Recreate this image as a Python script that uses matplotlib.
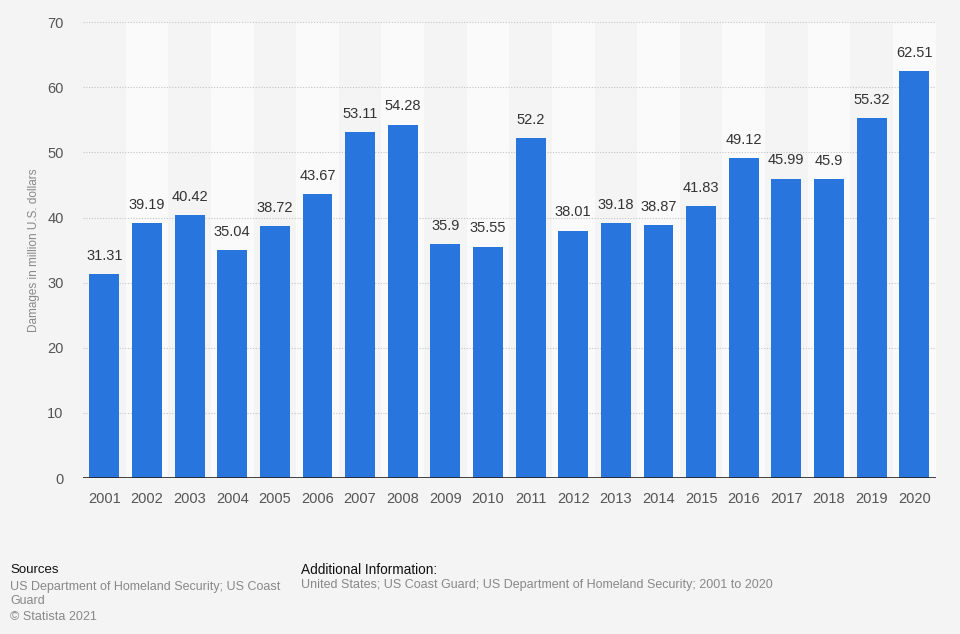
import matplotlib.pyplot as plt
import numpy as np

plt.rcParams['font.family'] = ['Liberation Sans', 'DejaVu Sans']

years = ["2001", "2002", "2003", "2004", "2005", "2006", "2007", "2008", "2009", "2010",
         "2011", "2012", "2013", "2014", "2015", "2016", "2017", "2018", "2019", "2020"]
damages = [31.31, 39.19, 40.42, 35.04, 38.72, 43.67, 53.11, 54.28, 35.9, 35.55,
           52.2, 38.01, 39.18, 38.87, 41.83, 49.12, 45.99, 45.9, 55.32, 62.51]
yticks = [0, 10, 20, 30, 40, 50, 60, 70]

bg = "#f4f4f4"
fig = plt.figure(figsize=(9.6, 6.34), dpi=100, facecolor=bg)
ax = fig.add_axes([0.0865, 0.246, 0.888, 0.719])
ax.set_facecolor(bg)

x = np.arange(len(years))
# alternating column bands
for i in x:
    if i % 2 == 1:
        ax.axvspan(i - 0.5, i + 0.5, color="#fafafa", zorder=0, lw=0)

for y in yticks[1:]:
    ax.axhline(y, color="#c4c4c4", lw=0.8, ls=(0, (1, 1.5)), zorder=1)

bars = ax.bar(x, damages, width=0.7, color="#2876dd", zorder=2)
for xi, v in zip(x, damages):
    ax.text(xi, v + 1.7, f"{v:g}", ha="center", va="bottom", fontsize=10.5, color="#333333")

ax.axhline(0, color="#222222", lw=1.2, zorder=3)
ax.set_xlim(-0.5, len(years) - 0.5)
ax.set_ylim(0, 70)
ax.set_xticks(x)
ax.set_xticklabels(years)
ax.set_yticks(yticks)
ax.tick_params(axis="both", length=0, labelsize=10.5, colors="#555555")
ax.tick_params(axis="x", pad=10)
ax.tick_params(axis="y", pad=14)
for s in ax.spines.values():
    s.set_visible(False)
ax.set_ylabel("Damages in million U.S. dollars", fontsize=8.5, color="#888888", labelpad=5)

fig.text(10 / 960, 1 - 570 / 634, "Sources", fontsize=9.5, color="#111111", va="center")
fig.text(10 / 960, 1 - 594 / 634, "US Department of Homeland Security; US Coast\nGuard",
         fontsize=9, color="#888888", va="center", linespacing=1.3)
fig.text(10 / 960, 1 - 617 / 634, "© Statista 2021", fontsize=9, color="#888888", va="center")
fig.text(301 / 960, 1 - 570 / 634, "Additional Information:", fontsize=9.8, color="#111111", va="center")
fig.text(301 / 960, 1 - 585 / 634,
         "United States; US Coast Guard; US Department of Homeland Security; 2001 to 2020",
         fontsize=9, color="#888888", va="center")

fig.savefig("out.png", dpi=100, facecolor=bg)
